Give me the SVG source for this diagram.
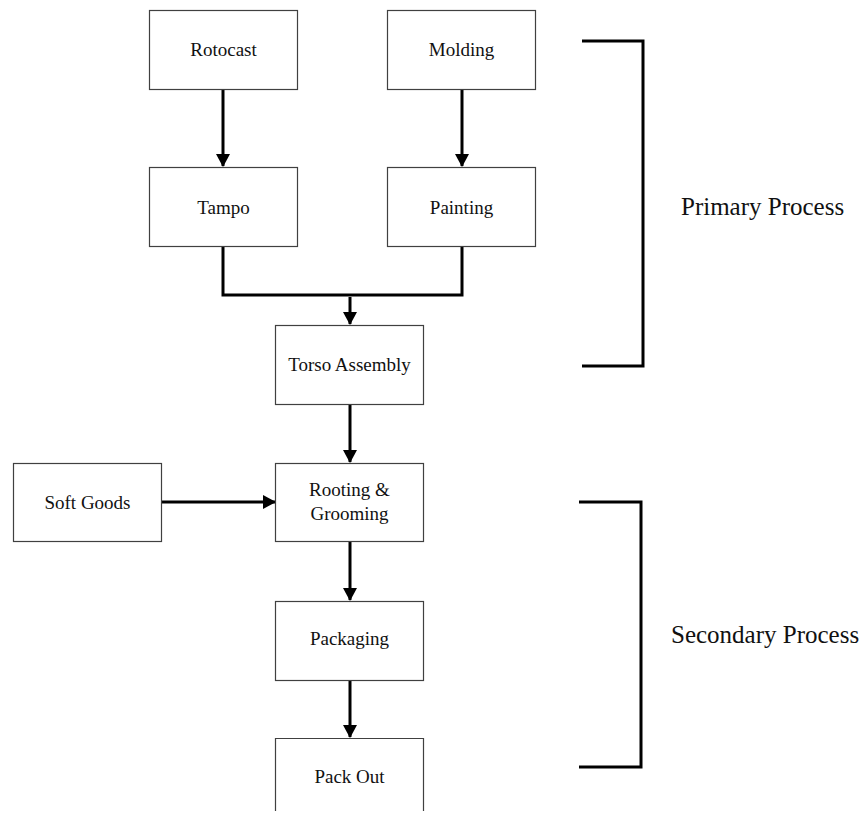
<svg xmlns="http://www.w3.org/2000/svg" width="865" height="814" viewBox="0 0 865 814">
  <style>
    .box { fill: #ffffff; stroke: #404040; stroke-width: 1.2; }
    .lbl { font-family: "Liberation Serif", "Times New Roman", serif; font-size: 19px; fill: #111111; text-anchor: middle; }
    .side { font-family: "Liberation Serif", "Times New Roman", serif; font-size: 25px; fill: #111111; }
    .conn { fill: none; stroke: #000000; stroke-width: 3; }
    .brace { fill: none; stroke: #000000; stroke-width: 3; stroke-linejoin: miter; }
  </style>
  <defs>
    <marker id="arrow" markerUnits="userSpaceOnUse" markerWidth="13" markerHeight="14" viewBox="0 0 13 14" refX="12" refY="7" orient="auto">
      <path d="M0,0 L13,7 L0,14 Z" fill="#000000"/>
    </marker>
  </defs>

  <rect width="865" height="814" fill="#ffffff"/>

  <!-- connectors -->
  <g id="connectors">
    <line class="conn" x1="223" y1="89" x2="223" y2="166" marker-end="url(#arrow)"/>
    <line class="conn" x1="462" y1="89" x2="462" y2="166" marker-end="url(#arrow)"/>
    <polyline class="conn" points="223,247 223,295 462,295 462,247"/>
    <line class="conn" x1="350" y1="297" x2="350" y2="324" marker-end="url(#arrow)"/>
    <line class="conn" x1="350" y1="404" x2="350" y2="462" marker-end="url(#arrow)"/>
    <line class="conn" x1="162" y1="502" x2="275" y2="502" marker-end="url(#arrow)"/>
    <line class="conn" x1="350" y1="541" x2="350" y2="600" marker-end="url(#arrow)"/>
    <line class="conn" x1="350" y1="680" x2="350" y2="737" marker-end="url(#arrow)"/>
  </g>

  <!-- process steps -->
  <g id="rotocast">
    <rect class="box" x="149.5" y="10.5" width="148" height="79"/>
    <text class="lbl" x="223.5" y="56">Rotocast</text>
  </g>
  <g id="molding">
    <rect class="box" x="387.5" y="10.5" width="148" height="79"/>
    <text class="lbl" x="461.5" y="56">Molding</text>
  </g>
  <g id="tampo">
    <rect class="box" x="149.5" y="167.5" width="148" height="79"/>
    <text class="lbl" x="223.5" y="214">Tampo</text>
  </g>
  <g id="painting">
    <rect class="box" x="387.5" y="167.5" width="148" height="79"/>
    <text class="lbl" x="461.5" y="214">Painting</text>
  </g>
  <g id="torso-assembly">
    <rect class="box" x="275.5" y="325.5" width="148" height="79"/>
    <text class="lbl" x="349.5" y="371">Torso Assembly</text>
  </g>
  <g id="soft-goods">
    <rect class="box" x="13.5" y="463.5" width="148" height="78"/>
    <text class="lbl" x="87.5" y="509">Soft Goods</text>
  </g>
  <g id="rooting-grooming">
    <rect class="box" x="275.5" y="463.5" width="148" height="78"/>
    <text class="lbl" x="349.5" y="496">Rooting &amp;</text>
    <text class="lbl" x="349.5" y="520">Grooming</text>
  </g>
  <g id="packaging">
    <rect class="box" x="275.5" y="601.5" width="148" height="79"/>
    <text class="lbl" x="349.5" y="645">Packaging</text>
  </g>
  <g id="pack-out">
    <path class="box" d="M275.5,811 V738.5 H423.5 V811"/>
    <text class="lbl" x="349.5" y="783">Pack Out</text>
  </g>

  <!-- stage brackets -->
  <g id="primary-process">
    <polyline class="brace" points="582,41 643,41 643,366 582,366"/>
    <text class="side" x="681" y="215">Primary Process</text>
  </g>
  <g id="secondary-process">
    <polyline class="brace" points="579,502 641,502 641,767 579,767"/>
    <text class="side" x="671" y="643">Secondary Process</text>
  </g>
</svg>
